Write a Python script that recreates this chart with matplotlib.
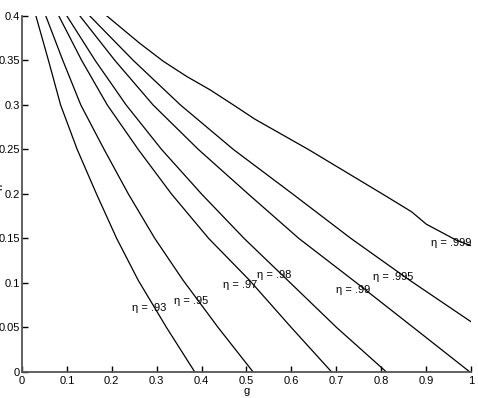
import numpy as np
import matplotlib.pyplot as plt

plt.rcParams['font.family'] = ['Liberation Sans', 'DejaVu Sans']

h_levels = [0.4, 0.35, 0.3, 0.25, 0.2, 0.15, 0.103, 0.05, 0.0]

# g values of each efficiency curve at those h levels
g_93 = [0.031, 0.059, 0.086, 0.123, 0.166, 0.211, 0.259, 0.322, 0.385]
g_95 = [0.053, 0.091, 0.131, 0.183, 0.237, 0.296, 0.359, 0.437, 0.515]
g_97 = [0.082, 0.133, 0.190, 0.259, 0.333, 0.416, 0.507, 0.600, 0.690]
g_98 = [0.100, 0.163, 0.232, 0.311, 0.400, 0.495, 0.592, 0.701, 0.812]
g_99 = [0.129, 0.207, 0.292, 0.393, 0.504, 0.617, 0.738, 0.872, 0.998]

# the two outer curves leave through the right edge
g_995 = [0.151, 0.248, 0.353, 0.471, 0.603, 0.733, 0.864, 1.0]
h_995 = [0.4, 0.35, 0.3, 0.25, 0.2, 0.15, 0.103, 0.0566]
g_999 = [0.189, 0.263, 0.315, 0.367, 0.419, 0.471, 0.519, 0.638, 0.803, 0.868, 0.901, 0.968, 1.0]
h_999 = [0.4, 0.369, 0.349, 0.332, 0.317, 0.300, 0.284, 0.25, 0.2, 0.180, 0.166, 0.148, 0.142]

labels = ['η = .93', 'η = .95', 'η = .97', 'η = .98', 'η = .99', 'η = .995', 'η = .999']
label_g = [0.283, 0.376, 0.486, 0.563, 0.738, 0.828, 0.956]
label_h = [0.072, 0.080, 0.098, 0.109, 0.092, 0.107, 0.145]

fig = plt.figure(figsize=(4.78, 3.98), dpi=100)
ax = fig.add_axes([0.046, 0.0653, 0.939, 0.8947])

for g in [g_93, g_95, g_97, g_98, g_99]:
    ax.plot(g, h_levels, color='black', lw=0.9)
ax.plot(g_995, h_995, color='black', lw=0.9)
ax.plot(g_999, h_999, color='black', lw=0.9)

for txt, x, y in zip(labels, label_g, label_h):
    ax.text(x, y, txt, fontsize=8, ha='center', va='center')

ax.set_xlim(0, 1)
ax.set_ylim(0, 0.4)
ax.set_xticks(np.arange(0, 1.01, 0.1))
ax.set_xticklabels(['0', '0.1', '0.2', '0.3', '0.4', '0.5', '0.6', '0.7', '0.8', '0.9', '1'])
ax.set_yticks(np.arange(0, 0.401, 0.05))
ax.set_yticklabels(['0', '0.05', '0.1', '0.15', '0.2', '0.25', '0.3', '0.35', '0.4'])
ax.tick_params(direction='in', length=4, width=1, labelsize=8, pad=1.5)
ax.tick_params(axis='x', pad=3)

for side in ['top', 'right']:
    ax.spines[side].set_visible(False)
for side in ['left', 'bottom']:
    ax.spines[side].set_color('#555555')
    ax.spines[side].set_linewidth(1.3)

ax.set_xlabel('g', fontsize=8, labelpad=0)
ax.set_ylabel('h', fontsize=8, labelpad=-2)
ax.yaxis.set_label_coords(-0.04, 0.52)

fig.savefig('out.png', dpi=100)
